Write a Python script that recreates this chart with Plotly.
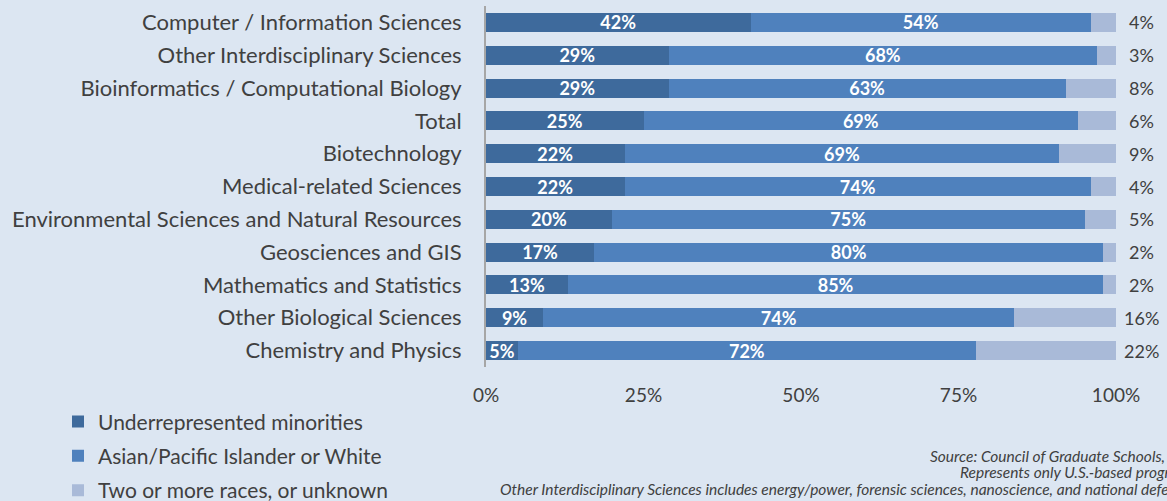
import plotly.graph_objects as go

categories = [
    "Computer / Information Sciences",
    "Other Interdisciplinary Sciences",
    "Bioinformatics / Computational Biology",
    "Total",
    "Biotechnology",
    "Medical-related Sciences",
    "Environmental Sciences and Natural Resources",
    "Geosciences and GIS",
    "Mathematics and Statistics",
    "Other Biological Sciences",
    "Chemistry and Physics",
]
urm = [42, 29, 29, 25, 22, 22, 20, 17, 13, 9, 5]
asian_white = [54, 68, 63, 69, 69, 74, 75, 80, 85, 74, 72]
two_or_more = [4, 3, 8, 6, 9, 4, 5, 2, 2, 16, 22]

series_names = [
    "Underrepresented minorities",
    "Asian/Pacific Islander or White",
    "Two or more races, or unknown",
]
colors = ["#3e6a9c", "#4f81bd", "#a9bad8"]

bg = "#dce6f2"
font = "Lato"
text_grey = "#404040"

# plot area in pixels
L, R, T, B = 486, 1116, 5.5, 367.5
W, H = R - L, B - T

fig = go.Figure()
for i, (name, vals) in enumerate(zip(series_names, [urm, asian_white, two_or_more])):
    inside = i < 2
    fig.add_trace(go.Bar(
        y=categories, x=vals, name=name, orientation="h",
        marker={"color": colors[i], "line": {"width": 0}},
        text=[f"{v}%" for v in vals] if inside else None,
        textposition="inside" if inside else "none",
        insidetextanchor="middle",
        constraintext="none",
        textfont={"family": font, "size": 18, "color": "white", "weight": "bold"},
        legendgroup=f"g{i}",
        hoverinfo="x+y+name",
    ))

# labels for the last segment, outside the bar end
for cat, v in zip(categories, two_or_more):
    fig.add_annotation(x=100, y=cat, xref="x", yref="y", text=f"{v}%",
                       showarrow=False, xanchor="center", xshift=25,
                       font={"family": font, "size": 18, "color": text_grey})

# footnotes run past the right edge, as in the original slide
notes = [
    (928, 457, "Source: Council of Graduate Schools, 2013"),
    (958, 473, "Represents only U.S.-based programs."),
    (498, 490, "Other Interdisciplinary Sciences includes energy/power, forensic sciences, nanoscience, and national defense."),
]
for px, py, t in notes:
    fig.add_annotation(x=(px - L) / W, y=(B - py) / H, xref="paper", yref="paper",
                       text=t, showarrow=False, xanchor="left", yanchor="middle",
                       font={"family": font, "size": 15.5, "color": text_grey, "style": "italic"})

fig.update_layout(
    barmode="stack",
    barnorm="percent",
    bargap=0.42,
    width=1167, height=501,
    margin={"l": L, "r": 1167 - R, "t": T, "b": 501 - B, "autoexpand": False},
    paper_bgcolor=bg, plot_bgcolor=bg,
    font={"family": font, "color": text_grey},
    legend={
        "x": (58 - L) / W, "y": (B - 402) / H,
        "xanchor": "left", "yanchor": "top",
        "traceorder": "grouped", "tracegroupgap": 4,
        "font": {"family": font, "size": 21, "color": text_grey},
        "bgcolor": "rgba(0,0,0,0)",
        "itemwidth": 30,
    },
    xaxis={
        "range": [0, 100], "tickvals": [0, 25, 50, 75, 100],
        "ticktext": ["0%", "25%", "50%", "75%", "100%"],
        "showgrid": False, "zeroline": False, "showline": False,
        "ticklabelstandoff": 15,
        "tickfont": {"family": font, "size": 19, "color": text_grey},
    },
    yaxis={
        "autorange": "reversed", "showgrid": False, "zeroline": False,
        "showline": True, "linecolor": "#a6a6a6", "linewidth": 2,
        "ticklabelstandoff": 18,
        "tickfont": {"family": font, "size": 22, "color": text_grey},
    },
)

fig.write_html("out.html", config={"displayModeBar": False},
               post_script="document.body.style.margin='0';")
